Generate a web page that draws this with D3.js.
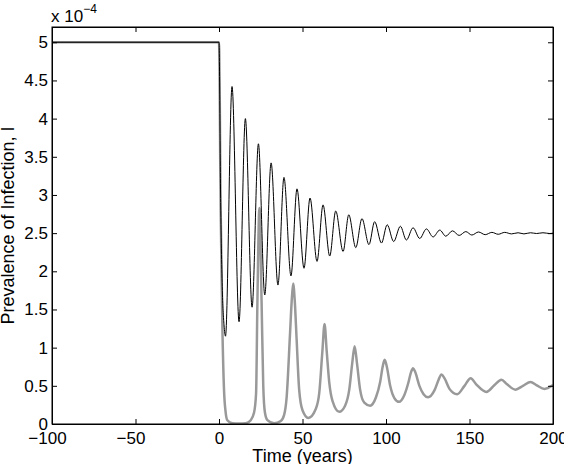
<!DOCTYPE html>
<html>
<head>
<meta charset="utf-8">
<script src="https://cdn.jsdelivr.net/npm/d3@7"></script>
<style>
  body { margin: 0; background: #fff; }
  svg text { font-family: "Liberation Sans", Arial, sans-serif; fill: #000; }
</style>
</head>
<body>
<svg id="chart" width="564" height="464"></svg>
<script>
// values in units of 1e-4
const blackT = [-100, 0, 1, 2, 3, 3.9, 7.8, 12.0, 15.8, 19.8, 23.6, 27.4, 31.2, 35.3, 38.9, 43.1, 46.7, 50.9, 54.5, 58.7, 62.3, 66.3, 69.9, 74.3, 77.7, 81.9, 85.6, 89.8, 93.2, 97.3, 100.7, 104.6, 108.6, 112.2, 116.2, 120.2, 124.2, 128.2, 132.2, 135.8, 139.8, 143.8, 147.8, 151.4, 155.4, 159.4, 163.4, 167.2, 171.1, 175.2, 179.1, 182.6, 186.5, 190.2, 194, 198, 200];
const blackI = [5, 5, 2.9, 1.75, 1.3, 1.15, 4.42, 1.34, 4.0, 1.53, 3.67, 1.69, 3.42, 1.82, 3.23, 1.94, 3.08, 2.04, 2.96, 2.13, 2.87, 2.20, 2.79, 2.26, 2.74, 2.31, 2.69, 2.35, 2.65, 2.37, 2.61, 2.39, 2.59, 2.41, 2.57, 2.43, 2.555, 2.45, 2.54, 2.46, 2.53, 2.47, 2.52, 2.475, 2.515, 2.48, 2.51, 2.485, 2.51, 2.49, 2.505, 2.49, 2.505, 2.495, 2.505, 2.495, 2.5];

const grayT = [-100, 0, 1, 2, 3, 4, 5, 8, 12, 16, 19, 21, 22.2, 23.0, 24.2, 25.5, 26.5, 27.5, 29, 33, 37, 39, 40.5, 42.5, 43.5, 44.4, 45.4, 46.5, 48, 50, 53.5, 58, 60, 61.9, 63.2, 64.5, 66, 68, 72, 75.5, 78, 79.8, 81.2, 82.6, 84.5, 87, 90.5, 94, 96.5, 98, 99.2, 100.5, 102.5, 105, 107.8, 111, 113.5, 115, 116.2, 117.5, 120, 122.5, 125.2, 129, 131.5, 133.2, 135, 138, 142.6, 147, 150.7, 154, 160.1, 165, 169.1, 172.5, 177.5, 182, 186.6, 190, 195, 200];
const grayI = [5, 5, 2.8, 1.3, 0.45, 0.15, 0.05, 0.01, 0.005, 0.01, 0.05, 0.15, 0.4, 1.6, 2.83, 1.6, 0.5, 0.15, 0.05, 0.01, 0.04, 0.12, 0.35, 1.17, 1.6, 1.84, 1.6, 1.1, 0.45, 0.18, 0.08, 0.2, 0.4, 0.95, 1.31, 0.95, 0.55, 0.3, 0.16, 0.24, 0.45, 0.8, 1.02, 0.8, 0.45, 0.28, 0.24, 0.35, 0.55, 0.75, 0.84, 0.75, 0.5, 0.34, 0.29, 0.38, 0.55, 0.68, 0.73, 0.68, 0.5, 0.39, 0.35, 0.44, 0.58, 0.65, 0.6, 0.46, 0.39, 0.5, 0.6, 0.52, 0.42, 0.51, 0.58, 0.52, 0.45, 0.5, 0.55, 0.51, 0.46, 0.51];

const xTicks = [-100, -50, 0, 50, 100, 150, 200];
const yTicks = [0, 0.5, 1, 1.5, 2, 2.5, 3, 3.5, 4, 4.5, 5];

const width = 564, height = 464;
const margin = {top: 27, right: 11, bottom: 40, left: 52};
const fontSize = 17;
const labelSize = 18;
const tickLen = 5;

const svg = d3.select('#chart');
const innerW = width - margin.left - margin.right;
const innerH = height - margin.top - margin.bottom;

const x = d3.scaleLinear().domain([-100, 200]).range([0, innerW]);
const y = d3.scaleLinear().domain([0, 5.2]).range([innerH, 0]);

const g = svg.append('g').attr('transform', `translate(${margin.left},${margin.top})`);

svg.append('defs').append('clipPath').attr('id', 'plotclip')
  .append('rect').attr('width', innerW).attr('height', innerH);

const line = d3.line()
  .x(d => x(d[0]))
  .y(d => y(d[1]))
  .curve(d3.curveMonotoneX);

const plot = g.append('g').attr('clip-path', 'url(#plotclip)');

plot.append('path')
  .datum(d3.zip(grayT, grayI))
  .attr('d', line)
  .attr('fill', 'none')
  .attr('stroke', '#999')
  .attr('stroke-width', 2.5);

plot.append('path')
  .datum(d3.zip(blackT, blackI))
  .attr('d', line)
  .attr('fill', 'none')
  .attr('stroke', '#000')
  .attr('stroke-width', 1);

// axes, matlab style: ticks inward on all four sides
const fmt = d => (d < 0 ? '\u2212' + Math.abs(d) : String(d));

const xBottom = d3.axisBottom(x).tickValues(xTicks).tickSizeInner(-tickLen).tickSizeOuter(0).tickPadding(8).tickFormat(fmt);
const xTop = d3.axisTop(x).tickValues(xTicks).tickSizeInner(-tickLen).tickSizeOuter(0).tickFormat('');
const yLeft = d3.axisLeft(y).tickValues(yTicks).tickSizeInner(-tickLen).tickSizeOuter(0).tickPadding(4).tickFormat(d3.format('~g'));
const yRight = d3.axisRight(y).tickValues(yTicks).tickSizeInner(-tickLen).tickSizeOuter(0).tickFormat('');

const gx = g.append('g').attr('transform', `translate(0,${innerH})`).call(xBottom);
g.append('g').call(xTop);
g.append('g').call(yLeft);
g.append('g').attr('transform', `translate(${innerW},0)`).call(yRight);

g.selectAll('.domain').attr('stroke', '#000').attr('stroke-width', 1);
g.selectAll('.tick line').attr('stroke', '#000');
g.selectAll('.tick text').attr('font-size', fontSize).attr('font-family', null);
// negative labels sit a little to the left in the original
gx.selectAll('.tick text').attr('dx', d => (d < 0 ? -5 : 0));

// full box
g.append('rect')
  .attr('width', innerW).attr('height', innerH)
  .attr('fill', 'none').attr('stroke', '#000').attr('stroke-width', 1);

// exponent label
const expo = svg.append('text')
  .attr('x', margin.left - 1)
  .attr('y', margin.top - 5)
  .attr('font-size', fontSize);
expo.append('tspan').text('x 10');
expo.append('tspan').attr('dy', -9).attr('font-size', 12).text('\u22124');

// axis labels
svg.append('text')
  .attr('x', margin.left + innerW / 2)
  .attr('y', height - 2)
  .attr('text-anchor', 'middle')
  .attr('font-size', labelSize)
  .text('Time (years)');

svg.append('text')
  .attr('transform', `translate(14,${margin.top + innerH / 2}) rotate(-90)`)
  .attr('text-anchor', 'middle')
  .attr('font-size', labelSize)
  .text('Prevalence of Infection, I');
</script>
</body>
</html>
